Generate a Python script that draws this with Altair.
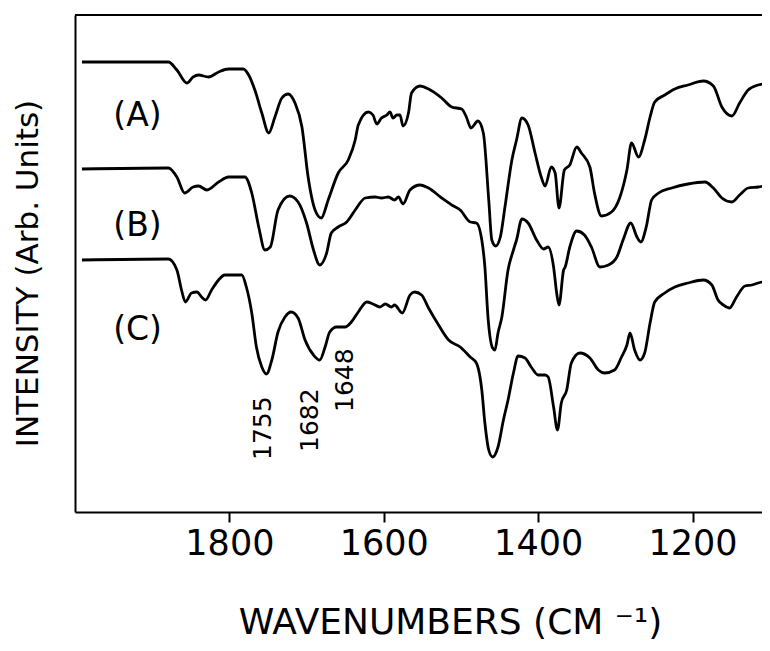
import altair as alt
import pandas as pd

# ---- data (wavenumber cm^-1, intensity arb. units) ----
wn_a = [1991, 1879, 1868, 1855, 1847, 1840, 1827, 1814, 1801, 1782, 1775, 1767, 1758, 1749, 1741,
        1732, 1724, 1715, 1706, 1698, 1689, 1681, 1672, 1659, 1646, 1637, 1633, 1620, 1614, 1609,
        1603, 1596, 1592, 1588, 1583, 1579, 1575, 1568, 1564, 1553, 1542, 1525, 1512, 1499, 1493,
        1487, 1478, 1471, 1464, 1460, 1455, 1449, 1443, 1434, 1428, 1421, 1413, 1404, 1396, 1391,
        1383, 1378, 1373, 1366, 1359, 1350, 1344, 1333, 1327, 1318, 1305, 1294, 1285, 1279, 1270,
        1262, 1255, 1249, 1236, 1223, 1206, 1186, 1173, 1162, 1149, 1139, 1128, 1115, 1097]
int_a = [450, 450, 442, 429, 435, 437, 435, 440, 443, 443, 437, 422, 399, 379, 395,
         414, 418, 409, 385, 335, 302, 294, 312, 339, 352, 372, 387, 400, 397, 388,
         394, 397, 400, 394, 397, 397, 386, 399, 419, 426, 423, 414, 405, 403, 395,
         384, 391, 379, 312, 272, 266, 275, 305, 352, 372, 394, 387, 359, 335, 326,
         345, 339, 304, 342, 347, 365, 359, 345, 319, 296, 300, 315, 342, 369, 355,
         372, 395, 410, 417, 423, 427, 431, 426, 405, 396, 409, 422, 427, 429]

wn_b = [1991, 1879, 1868, 1858, 1847, 1840, 1829, 1814, 1801, 1780, 1771, 1762, 1754, 1747, 1737,
        1722, 1711, 1700, 1691, 1683, 1674, 1668, 1659, 1648, 1637, 1624, 1611, 1603, 1594, 1586,
        1581, 1575, 1566, 1553, 1542, 1525, 1512, 1501, 1488, 1480, 1473, 1469, 1465, 1459, 1456,
        1452, 1447, 1439, 1432, 1428, 1421, 1413, 1402, 1393, 1387, 1380, 1376, 1373, 1367, 1365,
        1359, 1350, 1340, 1331, 1320, 1309, 1298, 1290, 1280, 1272, 1267, 1260, 1253, 1244, 1227,
        1206, 1184, 1173, 1162, 1149, 1139, 1128, 1115, 1097]
int_b = [343, 344, 335, 319, 325, 326, 322, 330, 335, 335, 319, 285, 262, 265, 302,
         316, 310, 289, 262, 247, 259, 279, 285, 290, 302, 314, 315, 314, 315, 312,
         315, 308, 322, 327, 324, 314, 307, 302, 290, 289, 272, 245, 195, 164, 162,
         179, 195, 242, 262, 272, 293, 289, 272, 263, 265, 245, 219, 207, 242, 245,
         265, 281, 277, 265, 245, 247, 255, 272, 289, 275, 270, 285, 312, 319, 324,
         328, 330, 324, 314, 310, 317, 324, 325, 328]

wn_c = [1991, 1879, 1868, 1862, 1857, 1849, 1842, 1836, 1831, 1823, 1814, 1806, 1784, 1778, 1771,
        1765, 1758, 1752, 1745, 1737, 1728, 1720, 1711, 1702, 1691, 1683, 1676, 1670, 1661, 1650,
        1642, 1633, 1622, 1614, 1605, 1598, 1590, 1586, 1576, 1566, 1560, 1551, 1542, 1529, 1516,
        1501, 1488, 1480, 1473, 1469, 1464, 1459, 1452, 1445, 1439, 1432, 1426, 1417, 1409, 1400,
        1391, 1387, 1380, 1375, 1370, 1363, 1357, 1346, 1333, 1322, 1314, 1301, 1292, 1285, 1281,
        1275, 1268, 1262, 1255, 1249, 1236, 1223, 1206, 1186, 1175, 1167, 1160, 1152, 1143, 1132,
        1123, 1115, 1097]
int_c = [252, 253, 242, 222, 210, 219, 220, 215, 212, 222, 232, 237, 237, 225, 199,
         165, 145, 138, 152, 180, 195, 200, 194, 172, 157, 152, 165, 180, 185, 185,
         190, 200, 210, 208, 205, 208, 205, 207, 199, 217, 220, 217, 204, 187, 172,
         165, 155, 149, 122, 89, 62, 55, 65, 92, 112, 139, 156, 154, 145, 137,
         137, 135, 105, 82, 109, 122, 149, 159, 154, 142, 139, 142, 155, 167, 179,
         162, 152, 159, 189, 210, 219, 225, 229, 232, 227, 212, 207, 204, 215, 226,
         227, 229, 233]

curve_labels = ["(A)", "(B)", "(C)"]
curve_label_wn = [1919, 1919, 1919]
curve_label_int = [396, 286, 182]

peak_labels = ["1755", "1682", "1648"]
peak_label_wn = [1756, 1696, 1650]
peak_label_int = [52, 60, 100]

x_ticks = [1800, 1600, 1400, 1200]
x_domain = [1110, 2000]
y_domain = [0, 497]

FONT = "DejaVu Sans"

spectra = pd.concat([
    pd.DataFrame({"wn": wn_a, "intensity": int_a, "series": "A"}),
    pd.DataFrame({"wn": wn_b, "intensity": int_b, "series": "B"}),
    pd.DataFrame({"wn": wn_c, "intensity": int_c, "series": "C"}),
])
labels_df = pd.DataFrame({"wn": curve_label_wn, "intensity": curve_label_int, "text": curve_labels})
peaks_df = pd.DataFrame({"wn": peak_label_wn, "intensity": peak_label_int, "text": peak_labels})
top_df = pd.DataFrame({"intensity": [y_domain[1]]})

x_scale = alt.Scale(domain=x_domain, reverse=True, nice=False, zero=False)
y_scale = alt.Scale(domain=y_domain, nice=False, zero=False)

x_axis = alt.Axis(
    values=x_ticks, format="d", grid=False, domainColor="black", domainWidth=2,
    tickColor="black", tickWidth=2, tickSize=10, labelFont=FONT, labelFontSize=35,
    labelColor="black", labelPadding=4, labelFlush=False,
    title="WAVENUMBERS (CM ⁻¹)", titleFont=FONT, titleFontSize=36,
    titleFontWeight="normal", titleColor="black", titleX=375, titleY=121,
    titleAlign="center", titleBaseline="alphabetic",
)
y_axis = alt.Axis(
    grid=False, ticks=False, labels=False, domainColor="black", domainWidth=2,
    title="INTENSITY (Arb. Units)", titleFont=FONT, titleFontSize=31,
    titleFontWeight="normal", titleColor="black", titleX=-47, titleY=258,
    titleAlign="center", titleBaseline="middle", titleAngle=270,
)

lines = alt.Chart(spectra).mark_line(
    color="black", strokeWidth=2.8, interpolate="monotone", clip=True
).encode(
    x=alt.X("wn:Q", scale=x_scale, axis=x_axis),
    y=alt.Y("intensity:Q", scale=y_scale, axis=y_axis),
    detail="series:N",
)

top_rule = alt.Chart(top_df).mark_rule(color="black", strokeWidth=2).encode(
    y=alt.Y("intensity:Q", scale=y_scale)
)

curve_text = alt.Chart(labels_df).mark_text(
    font=FONT, fontSize=33, color="black", align="center", baseline="middle"
).encode(
    x=alt.X("wn:Q", scale=x_scale),
    y=alt.Y("intensity:Q", scale=y_scale),
    text="text:N",
)

peak_text = alt.Chart(peaks_df).mark_text(
    font=FONT, fontSize=25, color="black", align="left", baseline="middle", angle=270
).encode(
    x=alt.X("wn:Q", scale=x_scale),
    y=alt.Y("intensity:Q", scale=y_scale),
    text="text:N",
)

chart = alt.layer(lines, top_rule, curve_text, peak_text).properties(
    width=687, height=497,
    autosize=alt.AutoSizeParams(type="none"),
    padding={"left": 67, "top": 7, "right": 0, "bottom": 128},
    background="white",
).configure_view(stroke=None)

chart.save("out.html", embed_options={"renderer": "svg", "actions": False})
